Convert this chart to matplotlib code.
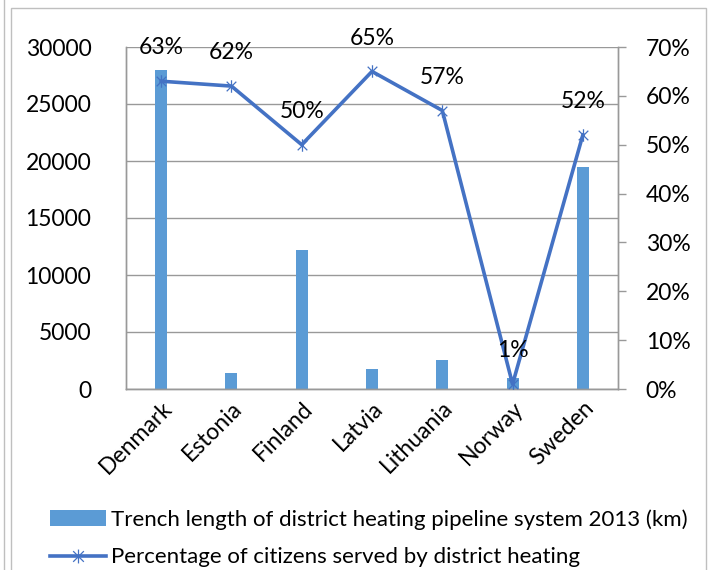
import matplotlib
matplotlib.use("Agg")
import matplotlib.pyplot as plt
from matplotlib.path import Path
from matplotlib.lines import Line2D
from matplotlib.patches import Rectangle, Patch
import numpy as np

countries = ["Denmark", "Estonia", "Finland", "Latvia", "Lithuania", "Norway", "Sweden"]
trench_km = [28000, 1400, 12200, 1750, 2550, 1000, 19500]
pct_served = [63, 62, 50, 65, 57, 1, 52]
pct_labels = ["63%", "62%", "50%", "65%", "57%", "1%", "52%"]
left_ticks = [0, 5000, 10000, 15000, 20000, 25000, 30000]
right_ticks = [0, 10, 20, 30, 40, 50, 60, 70]

plt.rcParams['font.family'] = ['Lato', 'DejaVu Sans']
FS = 16.5
LFS = 16

fig = plt.figure(figsize=(7.09, 5.70), dpi=100)
W, H = 709, 570
ax = fig.add_axes([126 / W, (H - 389) / H, (618 - 126) / W, (389 - 47) / H])
ax2 = ax.twinx()

x = np.arange(len(countries))
bar_color = "#5B9BD5"
line_color = "#4472C4"
grid_color = "#999999"

ax.bar(x, trench_km, width=0.17, color=bar_color, zorder=2)
ax.set_xlim(-0.5, len(countries) - 0.5)
ax.set_ylim(0, 30000)
ax.set_yticks(left_ticks)
ax.set_yticklabels([str(t) for t in left_ticks], fontsize=FS)
ax.tick_params(axis='y', length=0, pad=25)
ax.yaxis.grid(True, color=grid_color, linewidth=1.0, zorder=0)
ax.set_axisbelow(True)
ax.set_xticks(x)
ax.set_xticklabels(countries, rotation=45, ha='right', rotation_mode='anchor', fontsize=FS)
ax.tick_params(axis='x', length=0, pad=6)

star = Path([(-1, -1), (1, 1), (-1, 1), (1, -1), (0, -1.3), (0, 1.3)],
            [Path.MOVETO, Path.LINETO, Path.MOVETO, Path.LINETO, Path.MOVETO, Path.LINETO])

ax2.plot(x, pct_served, color=line_color, linewidth=2.6, zorder=3)
ax2.plot(x, pct_served, linestyle='none', marker=star, markersize=9,
         markeredgecolor=line_color, markerfacecolor='none', markeredgewidth=0.9, zorder=4)
ax2.set_ylim(0, 70)
ax2.set_yticks(right_ticks)
ax2.set_yticklabels([f"{t}%" for t in right_ticks], fontsize=FS)
ax2.tick_params(axis='y', length=6, width=1, color=grid_color, pad=14)
ax2.set_xlim(-0.5, len(countries) - 0.5)

for xi, yi, lab in zip(x, pct_served, pct_labels):
    ax2.annotate(lab, (xi, yi), xytext=(0, 24), textcoords='offset points',
                 ha='center', va='center', fontsize=FS, zorder=5)

for a in (ax, ax2):
    for s in a.spines.values():
        s.set_color(grid_color)
        s.set_linewidth(1.0)
    a.spines['top'].set_visible(False)

# figure frame
fig.patches.append(Rectangle((11 / W, -0.01), (706 - 11) / W, (H - 8) / H + 0.01,
                             transform=fig.transFigure, fill=False,
                             edgecolor="#BFBFBF", linewidth=1.0))
fig.lines.append(Line2D([4 / W, 4 / W], [0, 1], transform=fig.transFigure,
                        color="#BFBFBF", linewidth=1.0))

handles = [Patch(facecolor=bar_color, edgecolor='none'),
           Line2D([0], [0], color=line_color, linewidth=2.6, marker=star, markersize=10,
                  markeredgecolor=line_color, markeredgewidth=0.9)]
labels = ["Trench length of district heating pipeline system 2013 (km)",
          "Percentage of citizens served by district heating"]
fig.legend(handles, labels, loc='upper left', bbox_to_anchor=(50 / W, (H - 509) / H),
           frameon=False, fontsize=LFS, handlelength=2.5, handleheight=0.7,
           handletextpad=0.25, labelspacing=0.8, borderaxespad=0, borderpad=0)

fig.savefig("out.png", dpi=100)
